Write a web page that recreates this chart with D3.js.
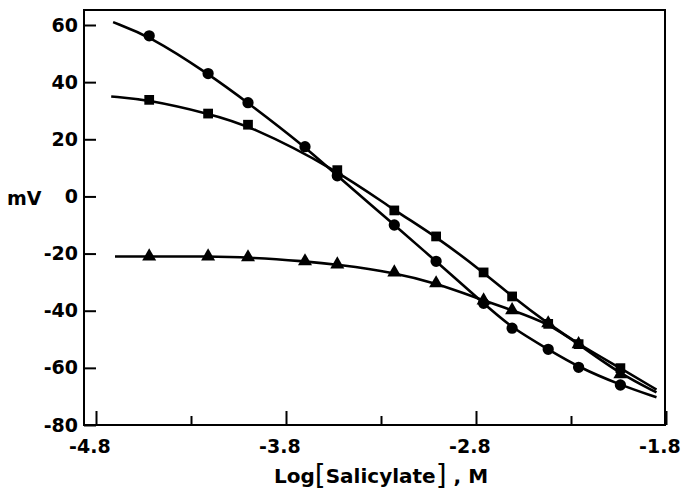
<!DOCTYPE html>
<html>
<head>
<meta charset="utf-8">
<script src="https://d3js.org/d3.v7.min.js"></script>
<style>
  body { margin: 0; background: #fff; }
  svg { display: block; }
  text { font-family: "DejaVu Sans", sans-serif; font-weight: bold; fill: #000; }
</style>
</head>
<body>
<div id="chart"></div>
<script>
// Log[Salicylate] of each measured point
const logSal = [-4.52, -4.21, -4.0, -3.7, -3.53, -3.23, -3.01, -2.76, -2.61, -2.42, -2.26, -2.04];

// measured potentials, mV
const circleMV   = [56.2, 43.0, 32.8, 17.4, 7.2, -10.0, -22.7, -37.4, -46.1, -53.5, -59.8, -66.0];
const squareMV   = [33.8, 29.0, 25.1, 9.2, -4.9, -14.0, -26.6, -35.0, -44.6, -51.7, -60.1];
const triangleMV = [-21.0, -21.0, -21.3, -22.7, -23.8, -26.6, -30.4, -36.4, -39.8, -44.4, -51.7, -62.2];

// squares were measured at these concentrations
const squareLog = [-4.52, -4.21, -4.0, -3.53, -3.23, -3.01, -2.76, -2.61, -2.42, -2.26, -2.04];

// ends of the fitted curves: [log, mV]
const circleEnds   = [[-4.71, 61.0], [-1.85, -70.3]];
const squareEnds   = [[-4.72, 35.0], [-1.85, -67.6]];
const triangleEnds = [[-4.70, -21.0], [-1.85, -68.6]];

const xMajor = [-4.8, -3.8, -2.8, -1.8];
const xMinor = [-4.3, -3.3, -2.3];
const yTicks = [60, 40, 20, 0, -20, -40, -60, -80];

const W = 681, H = 495;
const frame = { left: 84, right: 665, top: 10, bottom: 425 };

const svg = d3.select("#chart").append("svg")
  .attr("width", W)
  .attr("height", H);

const x = d3.scaleLinear().domain([-4.8, -1.8]).range([96, 666]);
const y = d3.scaleLinear().domain([-80, 60]).range([425, 25]);

// frame (top and right sides)
svg.append("rect")
  .attr("x", frame.left)
  .attr("y", frame.top)
  .attr("width", frame.right - frame.left)
  .attr("height", frame.bottom - frame.top)
  .attr("fill", "none")
  .attr("stroke", "#000")
  .attr("stroke-width", 2);

// Y axis
const yAxis = svg.append("g")
  .attr("transform", "translate(" + frame.left + ",0)")
  .call(d3.axisLeft(y).tickValues(yTicks).tickSize(-12).tickPadding(6).tickFormat(d => String(d)));
yAxis.select(".domain").remove();
yAxis.selectAll("line").attr("stroke", "#000").attr("stroke-width", 2);
yAxis.selectAll("text")
  .attr("font-size", "19px")
  .attr("font-family", "DejaVu Sans, sans-serif")
  .attr("font-weight", "bold")
  .attr("fill", "#000");

// X axis, major ticks with labels
const xAxis = svg.append("g")
  .attr("transform", "translate(0," + frame.bottom + ")")
  .call(d3.axisBottom(x).tickValues(xMajor).tickSize(-14).tickPadding(15).tickFormat(d => d.toFixed(1)));
xAxis.select(".domain").remove();
xAxis.selectAll("line").attr("stroke", "#000").attr("stroke-width", 2);
xAxis.selectAll("text")
  .attr("dx", "-0.35em")
  .attr("font-size", "19px")
  .attr("font-family", "DejaVu Sans, sans-serif")
  .attr("font-weight", "bold")
  .attr("fill", "#000");

// X axis, minor ticks
const xMinorAxis = svg.append("g")
  .attr("transform", "translate(0," + frame.bottom + ")")
  .call(d3.axisBottom(x).tickValues(xMinor).tickSize(-9).tickFormat(""));
xMinorAxis.select(".domain").remove();
xMinorAxis.selectAll("line").attr("stroke", "#000").attr("stroke-width", 2);

// axis titles
svg.append("text")
  .attr("x", 7)
  .attr("y", 205)
  .attr("font-size", "19px")
  .text("mV");

const title = svg.append("text")
  .attr("x", 381)
  .attr("y", 483)
  .attr("text-anchor", "middle")
  .attr("font-size", "20px");
title.append("tspan").text("Log");
title.append("tspan").attr("font-size", "28px").attr("font-weight", "normal").attr("dy", 2).text("[");
title.append("tspan").attr("dy", -2).text("Salicylate");
title.append("tspan").attr("font-size", "28px").attr("font-weight", "normal").attr("dy", 2).text("]");
title.append("tspan").attr("dy", -2).text(" , M");

// fitted curves
const line = d3.line()
  .x(d => x(d[0]))
  .y(d => y(d[1]))
  .curve(d3.curveBasis);

function curveData(xs, vs, ends) {
  return [ends[0]].concat(xs.map((v, i) => [v, vs[i]])).concat([ends[1]]);
}

const series = [
  { xs: logSal, vs: circleMV, ends: circleEnds, shape: "circle" },
  { xs: squareLog, vs: squareMV, ends: squareEnds, shape: "square" },
  { xs: logSal, vs: triangleMV, ends: triangleEnds, shape: "triangle" }
];

series.forEach(s => {
  svg.append("path")
    .datum(curveData(s.xs, s.vs, s.ends))
    .attr("d", line)
    .attr("fill", "none")
    .attr("stroke", "#000")
    .attr("stroke-width", 2.6);
});

// markers
const symbols = {
  circle: d3.symbol().type(d3.symbolCircle).size(100),
  square: d3.symbol().type(d3.symbolSquare).size(95),
  triangle: d3.symbol().type(d3.symbolTriangle).size(85)
};

series.forEach(s => {
  svg.append("g").selectAll("path")
    .data(s.xs.map((v, i) => [v, s.vs[i]]))
    .enter()
    .append("path")
    .attr("transform", d => "translate(" + x(d[0]) + "," + y(d[1]) + ")")
    .attr("d", symbols[s.shape])
    .attr("fill", "#000");
});
</script>
</body>
</html>
